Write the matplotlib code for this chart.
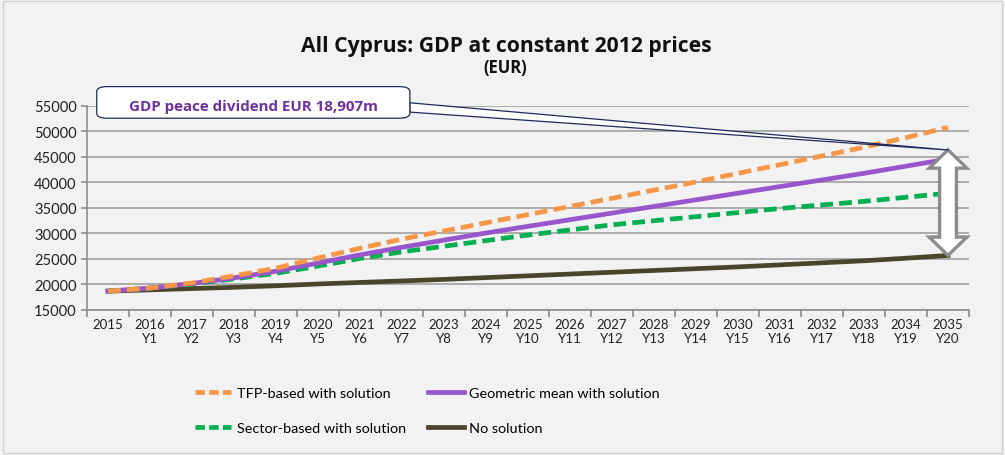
import numpy as np
import matplotlib.pyplot as plt
from matplotlib.patches import FancyBboxPatch, Polygon, Rectangle

plt.rcParams['font.family'] = ['Lato', 'DejaVu Sans']

# data (EUR m, constant 2012 prices)
years = ['2015', '2016\nY1', '2017\nY2', '2018\nY3', '2019\nY4', '2020\nY5', '2021\nY6',
         '2022\nY7', '2023\nY8', '2024\nY9', '2025\nY10', '2026\nY11', '2027\nY12',
         '2028\nY13', '2029\nY14', '2030\nY15', '2031\nY16', '2032\nY17', '2033\nY18',
         '2034\nY19', '2035\nY20']
tfp = [18700, 19300, 20300, 21700, 23200, 25200, 27100, 28900, 30500, 32100, 33700,
       35300, 36900, 38500, 40100, 41800, 43500, 45200, 46900, 48800, 50800]
geo = [18700, 19300, 20200, 21300, 22600, 24200, 25800, 27300, 28700, 30100, 31400,
       32700, 34000, 35300, 36600, 37900, 39200, 40500, 41800, 43200, 44600]
sector = [18700, 19300, 20100, 21100, 22200, 23600, 25100, 26400, 27500, 28600, 29700,
          30700, 31700, 32500, 33300, 34100, 34900, 35600, 36300, 37100, 37900]
nosol = [18700, 18950, 19200, 19450, 19750, 20100, 20400, 20700, 21000, 21350, 21700,
         22050, 22400, 22750, 23100, 23450, 23850, 24250, 24650, 25150, 25700]

bg = '#f2f2f2'
fig = plt.figure(figsize=(10.05, 4.56), dpi=100, facecolor=bg)
fig.patches.append(Rectangle((0.003, 0.005), 0.994, 0.99, transform=fig.transFigure,
                             fill=False, edgecolor='#d0d0d0', lw=1))
ax = fig.add_axes([0.0866, 0.318, 0.8776, 0.4474], facecolor=bg)

x = np.arange(len(years))
ax.plot(x, nosol, color='#4a452a', lw=3.4, zorder=3)
ax.plot(x, sector, color='#00b050', lw=3.4, dashes=(2.7, 1.3), zorder=4)
ax.plot(x, geo, color='#9955cc', lw=3.4, zorder=5)
ax.plot(x, tfp, color='#f79646', lw=3.4, dashes=(2.7, 1.3), zorder=6)

ax.set_xlim(-0.5, len(years) - 0.5)
ax.set_ylim(15000, 55000)
ax.set_yticks(np.arange(15000, 55001, 5000))
ax.set_xticks(x)
ax.set_xticklabels(years, fontsize=9.5, color='#222222')
ax.set_xticks(np.arange(-0.5, len(years), 1), minor=True)
ax.tick_params(axis='x', which='major', length=0, pad=6)
ax.tick_params(axis='x', which='minor', length=5, color='#8c8c8c', width=1.2)
ax.tick_params(axis='y', length=4, color='#8c8c8c', width=1.2, labelsize=10.5, labelcolor='#222222')
ax.grid(axis='y', color='#a0a0a0', lw=1.2, zorder=1)
for s in ['top', 'right']:
    ax.spines[s].set_visible(False)
for s in ['left', 'bottom']:
    ax.spines[s].set_color('#8c8c8c')
    ax.spines[s].set_linewidth(1.2)

# titles
fig.text(0.504, 0.899, 'All Cyprus: GDP at constant 2012 prices', ha='center', va='center',
         fontsize=15.2, fontweight='bold', color='#111111', family='Open Sans')
fig.text(0.503, 0.851, '(EUR)', ha='center', va='center', fontsize=12,
         fontweight='bold', color='#111111', family='Open Sans')

# double-headed arrow between no solution and peace dividend end point
xa = x[-1]
top = geo[-1] + 1800
bot = nosol[-1]
hw, sw, hh = 0.45, 0.2, 3600
arrow = Polygon([(xa, top), (xa + hw, top - hh), (xa + sw, top - hh), (xa + sw, bot + hh),
                 (xa + hw, bot + hh), (xa, bot), (xa - hw, bot + hh), (xa - sw, bot + hh),
                 (xa - sw, top - hh), (xa - hw, top - hh)], closed=True,
                facecolor='white', edgecolor='#8c8c8c', lw=2.4, zorder=8, clip_on=False)
ax.add_patch(arrow)

# callout
tail = Polygon([(0.366, 1.0155), (0.977, 0.784), (0.366, 0.97)], closed=True,
               transform=ax.transAxes, facecolor='white', edgecolor='#1f2a5a', lw=0.9,
               zorder=9, clip_on=False)
ax.add_patch(tail)
box = FancyBboxPatch((0.011, 0.94), 0.355, 0.155, boxstyle='round,pad=0,rounding_size=0.012',
                     transform=ax.transAxes, facecolor='white', edgecolor='#1f2a5a', lw=0.9,
                     zorder=10, clip_on=False, mutation_aspect=2.0)
ax.add_patch(box)
ax.text(0.189, 1.0, 'GDP peace dividend EUR 18,907m', transform=ax.transAxes,
        ha='center', va='center', fontsize=10.9, fontweight='bold', color='#7030a0', zorder=11,
        family='Open Sans')

# legend
handles = [plt.Line2D([], [], color='#f79646', lw=3.4, dashes=(2.0, 0.9)),
           plt.Line2D([], [], color='#00b050', lw=3.4, dashes=(2.0, 0.9)),
           plt.Line2D([], [], color='#9955cc', lw=3.4),
           plt.Line2D([], [], color='#4a452a', lw=3.4)]
labels = ['TFP-based with solution', 'Sector-based with solution',
          'Geometric mean with solution', 'No solution']
fig.legend(handles, labels, ncol=2, loc='center left', bbox_to_anchor=(0.181, 0.097),
           frameon=False, fontsize=10.4, handlelength=2.5, handletextpad=0.4,
           columnspacing=1.5, labelspacing=1.6)

fig.savefig('out.png', dpi=100, facecolor=bg)
